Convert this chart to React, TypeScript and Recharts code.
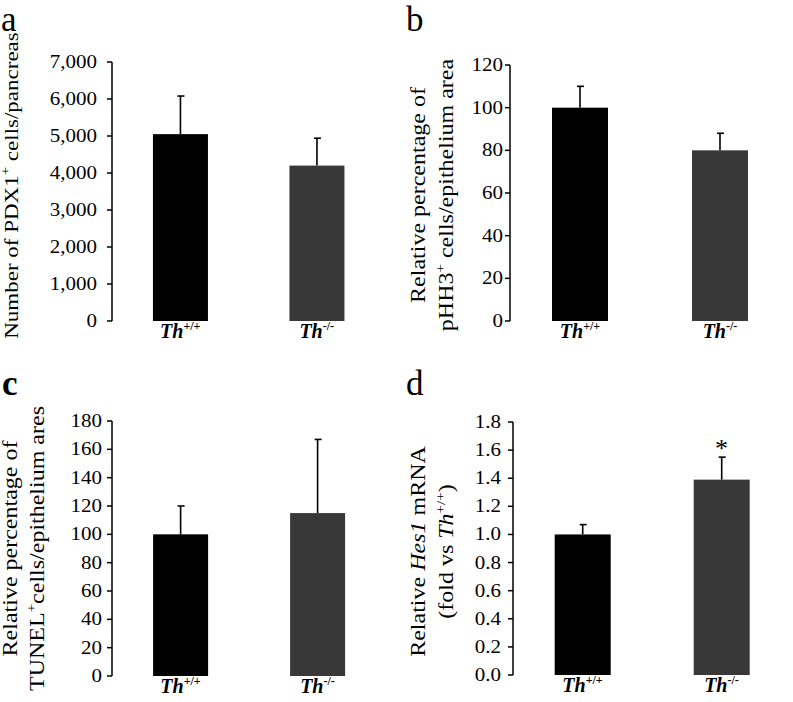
import React from 'react';
import { BarChart, Bar, Cell, XAxis, YAxis, ReferenceDot } from 'recharts';

const FONT = '"Liberation Serif", "Times New Roman", serif';

// genotypes on the x axis
const genotypes = ['+/+', '-/-'];
const barColors = ['#000000', '#383838'];

// a: PDX1+ cells per pancreas
const pdx1Mean = [5050, 4200];
const pdx1Sem = [1030, 740];
const pdx1Ticks = [0, 1000, 2000, 3000, 4000, 5000, 6000, 7000];

// b: pHH3+ cells
const phh3Mean = [100, 80];
const phh3Sem = [10, 8];
const phh3Ticks = [0, 20, 40, 60, 80, 100, 120];

// c: TUNEL+ cells
const tunelMean = [100, 115];
const tunelSem = [20, 52];
const tunelTicks = [0, 20, 40, 60, 80, 100, 120, 140, 160, 180];

// d: Hes1 mRNA
const hes1Mean = [1.0, 1.39];
const hes1Sem = [0.07, 0.16];
const hes1Ticks = [0, 0.2, 0.4, 0.6, 0.8, 1.0, 1.2, 1.4, 1.6, 1.8];
const hes1Signif = ['', '*'];

type Seg = { t: string; i?: boolean; sup?: boolean };
type Row = { name: string; value: number; sem: number };

const buildRows = (mean: number[], sem: number[]): Row[] =>
  genotypes.map((g, idx) => ({ name: g, value: mean[idx], sem: sem[idx] }));

// bar + upward-only SEM whisker, scaled from the bar's own pixel height
const BarWithError = (props: any) => {
  const { x, y, width, height, fill, payload } = props;
  const pxPerUnit = height / payload.value;
  const top = y - payload.sem * pxPerUnit;
  const cx = x + width / 2;
  return (
    <g>
      <rect x={x} y={y} width={width} height={height} fill={fill} />
      <line x1={cx} x2={cx} y1={y} y2={top} stroke="#000" strokeWidth={1.6} />
      <line x1={cx - 3} x2={cx + 4} y1={top} y2={top} stroke="#000" strokeWidth={1.6} />
    </g>
  );
};

// rotated, slightly squashed axis title (the source figure is stretched sideways)
const YTitle = (props: any) => {
  const { viewBox, lines, baseX, shift, size } = props;
  const fs = size || 24;
  const cy = viewBox.y + viewBox.height / 2 + (shift || 0);
  return (
    <g>
      {lines.map((segs: Seg[], li: number) => {
        let up = false;
        return (
          <text
            key={li}
            x={0}
            y={0}
            textAnchor="middle"
            transform={`translate(${baseX[li]} ${cy}) rotate(-90) scale(1 0.85)`}
            fontFamily={FONT}
            fontSize={fs}
            fill="#000"
          >
            {segs.map((s, si) => {
              let dy = 0;
              if (s.sup && !up) dy = -9;
              if (!s.sup && up) dy = 9;
              up = !!s.sup;
              return (
                <tspan
                  key={si}
                  dy={dy}
                  fontStyle={s.i ? 'italic' : 'normal'}
                  fontSize={s.sup ? 15 : fs}
                >
                  {s.t}
                </tspan>
              );
            })}
          </text>
        );
      })}
    </g>
  );
};

const GenotypeTick = (props: any) => {
  const { x, y, payload } = props;
  return (
    <text x={x} y={y} dy={9} textAnchor="middle" fontFamily={FONT} fill="#000">
      <tspan fontStyle="italic" fontWeight="bold" fontSize={20}>
        Th
      </tspan>
      <tspan dy={-8} fontWeight="bold" fontSize={12}>
        {payload.value}
      </tspan>
    </text>
  );
};

const ValueTick = (props: any) => {
  const { x, y, payload, fmt } = props;
  return (
    <text
      x={0}
      y={0}
      dy={7}
      transform={`translate(${x} ${y}) scale(1 0.86)`}
      textAnchor="end"
      fontFamily={FONT}
      fontSize={21}
      fill="#000"
    >
      {fmt(payload.value)}
    </text>
  );
};

interface PanelProps {
  rows: Row[];
  ticks: number[];
  fmt: (v: number) => string;
  title: Seg[][];
  titleX: number[];
  titleShift?: number;
  titleSize?: number;
  margin: { top: number; right: number; bottom: number; left: number };
  axisH: number;
  tickGap: number;
  signif?: string[];
}

const Panel = ({
  rows,
  ticks,
  fmt,
  title,
  titleX,
  titleShift,
  titleSize,
  margin,
  axisH,
  tickGap,
  signif,
}: PanelProps) => (
  <BarChart width={397} height={351} data={rows} margin={margin} barCategoryGap="30%">
    <XAxis
      xAxisId="frame"
      type="number"
      domain={[0, 2]}
      ticks={[0, 1, 2]}
      allowDataOverflow
      height={0}
      tick={false}
      tickSize={5}
      stroke="#000"
      strokeWidth={1.5}
    />
    <XAxis
      xAxisId="cat"
      dataKey="name"
      height={axisH}
      axisLine={false}
      tickLine={false}
      tick={<GenotypeTick />}
    />
    <YAxis
      width={60}
      domain={[0, ticks[ticks.length - 1]]}
      ticks={ticks}
      interval={0}
      tickSize={5}
      tickMargin={tickGap}
      stroke="#000"
      strokeWidth={1.5}
      tick={<ValueTick fmt={fmt} />}
      label={<YTitle lines={title} baseX={titleX} shift={titleShift} size={titleSize} />}
    />
    <Bar dataKey="value" xAxisId="cat" isAnimationActive={false} shape={<BarWithError />}>
      {rows.map((r, i) => (
        <Cell key={r.name} fill={barColors[i]} />
      ))}
    </Bar>
    {signif &&
      rows.map((r, i) =>
        signif[i] ? (
          <ReferenceDot
            key={r.name}
            xAxisId="cat"
            x={r.name}
            y={r.value + r.sem}
            r={0}
            stroke="none"
            label={{
              value: signif[i],
              position: 'top',
              offset: 0,
              fontSize: 26,
              fontFamily: FONT,
              fill: '#000',
            }}
          />
        ) : null,
      )}
  </BarChart>
);

const thousands = (v: number) => v.toLocaleString('en-US');
const plain = (v: number) => String(v);
const oneDec = (v: number) => v.toFixed(1);

export default function App() {
  return (
    <div
      style={{
        position: 'absolute',
        left: 0,
        top: 0,
        width: 793,
        height: 702,
        background: '#fff',
        overflow: 'hidden',
      }}
    >
      <div style={{ position: 'absolute', left: 0, top: 0 }}>
        <Panel
          rows={buildRows(pdx1Mean, pdx1Sem)}
          ticks={pdx1Ticks}
          fmt={thousands}
          title={[[{ t: 'Number of PDX1' }, { t: '+', sup: true }, { t: ' cells/pancreas' }]]}
          titleX={[18]}
          titleShift={-6}
          titleSize={23}
          margin={{ top: 62, right: 12, bottom: 0, left: 52 }}
          axisH={30}
          tickGap={10}
        />
      </div>
      <div style={{ position: 'absolute', left: 396, top: 0 }}>
        <Panel
          rows={buildRows(phh3Mean, phh3Sem)}
          ticks={phh3Ticks}
          fmt={plain}
          title={[
            [{ t: 'Relative percentage of' }],
            [{ t: 'pHH3' }, { t: '+', sup: true }, { t: ' cells/epithelium area' }],
          ]}
          titleX={[29, 57]}
          titleShift={2}
          margin={{ top: 65, right: 3, bottom: 0, left: 54 }}
          axisH={30}
          tickGap={2}
        />
      </div>
      <div style={{ position: 'absolute', left: 0, top: 351 }}>
        <Panel
          rows={buildRows(tunelMean, tunelSem)}
          ticks={tunelTicks}
          fmt={plain}
          title={[
            [{ t: 'Relative percentage of' }],
            [{ t: 'TUNEL' }, { t: '+', sup: true }, { t: 'cells/epithelium ares' }],
          ]}
          titleX={[17, 44]}
          margin={{ top: 70, right: 11, bottom: 0, left: 52 }}
          axisH={26}
          tickGap={5}
        />
      </div>
      <div style={{ position: 'absolute', left: 396, top: 351 }}>
        <Panel
          rows={buildRows(hes1Mean, hes1Sem)}
          ticks={hes1Ticks}
          fmt={oneDec}
          title={[
            [{ t: 'Relative ' }, { t: 'Hes1', i: true }, { t: ' mRNA' }],
            [{ t: '(fold vs ' }, { t: 'Th', i: true }, { t: '+/+', sup: true }, { t: ')' }],
          ]}
          titleX={[29, 57]}
          titleShift={3}
          margin={{ top: 71, right: 2, bottom: 0, left: 57 }}
          axisH={27}
          tickGap={7}
          signif={hes1Signif}
        />
      </div>
      <svg
        width={793}
        height={702}
        style={{ position: 'absolute', left: 0, top: 0, pointerEvents: 'none' }}
      >
        <g fontFamily={FONT} fontSize={35} fill="#000">
          <text x={1} y={31}>a</text>
          <text x={406} y={31}>b</text>
          <text x={2} y={395} fontWeight="bold">c</text>
          <text x={406} y={395}>d</text>
        </g>
      </svg>
    </div>
  );
}
